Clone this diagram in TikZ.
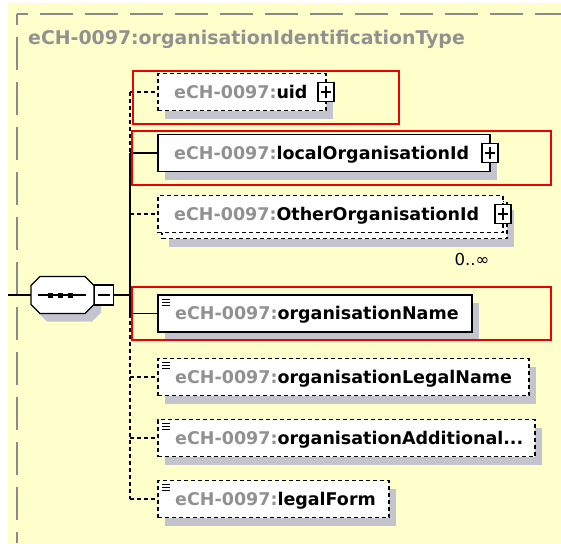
\documentclass[tikz,border=0pt]{standalone}
\usepackage{fontspec}
\setmainfont{DejaVu Sans}
\usetikzlibrary{shadows}

\definecolor{paper}{RGB}{255,255,204}
\definecolor{framegray}{RGB}{138,138,138}
\definecolor{nsgray}{RGB}{145,145,145}
\definecolor{shadowgray}{RGB}{196,196,206}
\definecolor{markred}{RGB}{236,0,0}

\newcommand{\nsprefix}{\textcolor{nsgray}{eCH-0097:}}

\tikzset{
  boxshadow/.style={general shadow={fill=shadowgray, draw=none, shadow xshift=7pt, shadow yshift=-8pt}},
  elembox/.style={rectangle, draw=black, fill=white, line width=1.3pt, inner sep=0pt,
    outer sep=0pt, minimum height=37pt, anchor=west},
  optdash/.style={dash pattern=on 4pt off 3pt},
  elemtext/.style={anchor=base west, inner sep=0pt, font=\fontsize{17.5}{21}\selectfont\bfseries},
  expander/.style={rectangle, draw=black, fill=white, line width=1.1pt, inner sep=0pt,
    minimum width=16pt, minimum height=19pt,
    path picture={\draw[line width=1.1pt]
      ([xshift=-5pt]path picture bounding box.center) -- ([xshift=5pt]path picture bounding box.center)
      ([yshift=-6pt]path picture bounding box.center) -- ([yshift=6pt]path picture bounding box.center);}},
  collapser/.style={rectangle, draw=black, fill=white, line width=1.1pt, inner sep=0pt,
    minimum width=19pt, minimum height=20pt, anchor=west,
    path picture={\draw[line width=1.1pt]
      ([xshift=-6pt]path picture bounding box.center) -- ([xshift=6pt]path picture bounding box.center);}},
  link/.style={line width=1.3pt, black},
  focus/.style={draw=markred, line width=2.2pt},
  octbase/.style={minimum width=63pt, minimum height=37pt, inner sep=0pt, outer sep=0pt},
}

\begin{document}
\begin{tikzpicture}[x=1pt, y=-1pt]
  \useasboundingbox (0,0) rectangle (561,543);
  \fill[white] (0,0) rectangle (561,543);
  \fill[paper] (8,3) rectangle (561,543);

  % complex type frame
  \draw[framegray, line width=2pt, dash pattern=on 33pt off 12pt, dash phase=22pt] (17,14) -- (561,14);
  \draw[framegray, line width=2pt, dash pattern=on 33pt off 12pt, dash phase=22pt] (17,14) -- (17,543);
  \node[anchor=base west, inner sep=0pt, text=nsgray, font=\fontsize{18.9}{22}\selectfont\bfseries]
    (typename) at (28,44.5) {eCH-0097:organisationIdentificationType};

  % sequence compositor (octagon with its shadow)
  \node[octbase] (seqshade) at (69.5,303) {};
  \node[octbase] (seq) at (62.5,295) {};
  \fill[shadowgray]
    ([xshift=9pt]seqshade.north west) -- ([xshift=-9pt]seqshade.north east) -- ([yshift=-9pt]seqshade.north east)
    -- ([yshift=9pt]seqshade.south east) -- ([xshift=-9pt]seqshade.south east) -- ([xshift=9pt]seqshade.south west)
    -- ([yshift=9pt]seqshade.south west) -- ([yshift=-9pt]seqshade.north west) -- cycle;
  \draw[fill=white, line width=1.3pt]
    ([xshift=9pt]seq.north west) -- ([xshift=-9pt]seq.north east) -- ([yshift=-9pt]seq.north east)
    -- ([yshift=9pt]seq.south east) -- ([xshift=-9pt]seq.south east) -- ([xshift=9pt]seq.south west)
    -- ([yshift=9pt]seq.south west) -- ([yshift=-9pt]seq.north west) -- cycle;
  \draw[line width=1.3pt] ([xshift=7pt]seq.west) -- ([xshift=-8pt]seq.east);
  \foreach \dx in {-12.5,-2.5,7.5}
    \fill ([xshift=\dx pt-2.5pt, yshift=-2.5pt]seq.center) rectangle ++(5pt,5pt);
  \node[collapser] (seqminus) at (seq.east) {};

  \coordinate (entry) at (8,295);
  \draw[link] (entry) -- (seq.west);

  % trunk points
  \coordinate (tuid)  at (130,92);
  \coordinate (tloc)  at (130,153);
  \coordinate (toth)  at (130,214);
  \coordinate (tseq)  at (130,295);
  \coordinate (torg)  at (130,313.5);
  \coordinate (tleg)  at (130,377);
  \coordinate (tadd)  at (130,438);
  \coordinate (tform) at (130,499);

  \draw[link] (seqminus.east) -- (tseq);
  \draw[link, optdash] (tuid) -- (tloc);
  \draw[link] (tloc) -- (torg);
  \draw[link, optdash] (torg) -- (tform);

  % child elements
  \node[elembox, optdash, boxshadow, minimum width=168pt] (uid) at (158,92) {};
  \node[elemtext] (uidtxt) at ([xshift=16pt, yshift=-6.4pt]uid.west) {\nsprefix uid};
  \node[expander] (uidplus) at (uid.east) {};

  \node[elembox, boxshadow, minimum width=332pt] (locorg) at (158,153) {};
  \node[elemtext] (locorgtxt) at ([xshift=16pt, yshift=-6.4pt]locorg.west) {\nsprefix localOrganisationId};
  \node[expander] (locorgplus) at (locorg.east) {};

  \node[elembox, optdash, boxshadow, minimum width=345pt] (otherback) at (162,220) {};
  \node[elembox, optdash, minimum width=345pt] (other) at (158,214) {};
  \node[elemtext] (othertxt) at ([xshift=16pt, yshift=-6.4pt]other.west) {\nsprefix OtherOrganisationId};
  \node[expander] (otherplus) at (other.east) {};
  \node[anchor=base, inner sep=0pt, font=\fontsize{16.5}{19}\selectfont] (othermult) at (472,265) {0..\char"221E};

  \node[elembox, boxshadow, minimum width=314pt] (orgname) at (158,313.5) {};
  \node[elemtext] (orgnametxt) at ([xshift=17pt, yshift=-6.4pt]orgname.west) {\nsprefix organisationName};

  \node[elembox, optdash, boxshadow, minimum width=371pt] (legname) at (158,377) {};
  \node[elemtext] (legnametxt) at ([xshift=17pt, yshift=-6.4pt]legname.west) {\nsprefix organisationLegalName};

  \node[elembox, optdash, boxshadow, minimum width=377pt] (addname) at (158,438) {};
  \node[elemtext] (addnametxt) at ([xshift=17pt, yshift=-6.4pt]addname.west) {\nsprefix organisationAdditional...};

  \node[elembox, optdash, boxshadow, minimum width=231pt] (legform) at (158,499) {};
  \node[elemtext] (legformtxt) at ([xshift=17pt, yshift=-6.4pt]legform.west) {\nsprefix legalForm};

  % simple-content marks
  \foreach \b in {orgname, legname, addname, legform}
    \foreach \dy in {4,7,10}
      \draw[line width=1pt] ([xshift=4pt, yshift=-\dy pt]\b.north west) -- ++(8pt,0);

  % connectors
  \draw[link, optdash] (tuid) -- (uid.west);
  \draw[link] (tloc) -- (locorg.west);
  \draw[link, optdash] (toth) -- (other.west);
  \draw[link] (torg) -- (orgname.west);
  \draw[link, optdash] (tleg) -- (legname.west);
  \draw[link, optdash] (tadd) -- (addname.west);
  \draw[link, optdash] (tform) -- (legform.west);

  % highlight frames
  \draw[focus] (133,71) rectangle (399,124);
  \draw[focus] (132,131) rectangle (551,185);
  \draw[focus] (132,287) rectangle (551,340);
\end{tikzpicture}
\end{document}
